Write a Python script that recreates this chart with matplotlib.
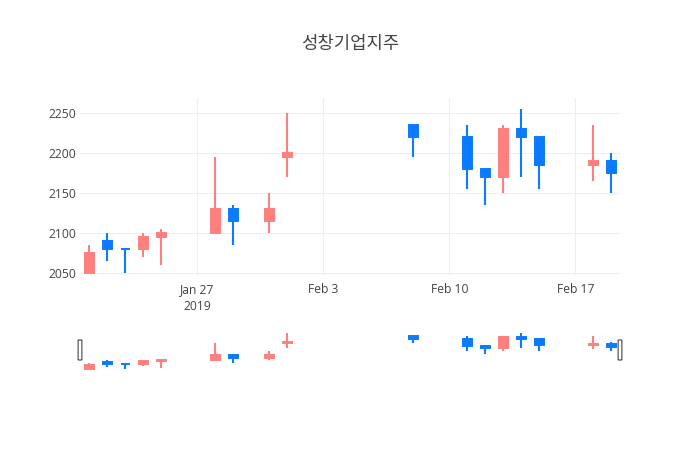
import datetime as dt

import matplotlib
matplotlib.use("Agg")
import matplotlib.dates as mdates
import matplotlib.pyplot as plt
from matplotlib.patches import FancyBboxPatch

# 일봉 데이터
dates = ["2019-01-21", "2019-01-22", "2019-01-23", "2019-01-24", "2019-01-25",
         "2019-01-28", "2019-01-29", "2019-01-31", "2019-02-01", "2019-02-08",
         "2019-02-11", "2019-02-12", "2019-02-13", "2019-02-14", "2019-02-15",
         "2019-02-18", "2019-02-19"]
opens = [2050, 2090, 2080, 2080, 2095, 2100, 2130, 2115, 2195, 2235,
         2220, 2180, 2170, 2230, 2220, 2185, 2190]
highs = [2085, 2100, 2080, 2100, 2105, 2195, 2135, 2150, 2250, 2235,
         2235, 2180, 2235, 2255, 2220, 2235, 2200]
lows = [2050, 2065, 2050, 2070, 2060, 2100, 2085, 2100, 2170, 2195,
        2155, 2135, 2150, 2170, 2155, 2165, 2150]
closes = [2075, 2080, 2080, 2095, 2100, 2130, 2115, 2130, 2200, 2220,
          2180, 2170, 2230, 2220, 2185, 2190, 2175]

yticks = [2050, 2100, 2150, 2200, 2250]
xtick_dates = ["2019-01-27", "2019-02-03", "2019-02-10", "2019-02-17"]
xtick_labels = ["Jan 27\n2019", "Feb 3", "Feb 10", "Feb 17"]
TITLE = "성창기업지주"

UP = "#ff7f7f"
DOWN = "#0a7bff"
TEXT = "#444444"
GRID = "#eeeeee"
W, H = 700, 450

plt.rcParams["font.family"] = ["Open Sans", "Noto Sans CJK KR", "DejaVu Sans"]

xs = [mdates.date2num(dt.datetime.strptime(d, "%Y-%m-%d")) for d in dates]
xt = [mdates.date2num(dt.datetime.strptime(d, "%Y-%m-%d")) for d in xtick_dates]


def draw_candles(ax):
    for x, o, h, l, c in zip(xs, opens, highs, lows, closes):
        col = UP if c > o else DOWN
        ax.vlines(x, l, h, color=col, lw=1.5, zorder=2)
        ax.bar(x, abs(c - o), bottom=min(o, c), width=0.5, color=col,
               edgecolor=col, lw=1.4, zorder=3)


fig = plt.figure(figsize=(W / 100, H / 100), dpi=100)
ax = fig.add_axes([80 / W, 1 - 275 / H, 540 / W, 177 / H])
sl = fig.add_axes([80 / W, 1 - 370 / H, 540 / W, 40 / H])

draw_candles(ax)
draw_candles(sl)

xlim = (xs[0] - 0.52, xs[-1] + 0.48)
for a in (ax, sl):
    a.set_xlim(*xlim)
    a.set_ylim(2047, 2269)
    for s in a.spines.values():
        s.set_visible(False)

ax.set_yticks(yticks)
ax.set_xticks(xt)
ax.set_xticklabels(xtick_labels, linespacing=1.35)
ax.grid(True, color=GRID, lw=0.75, zorder=0)
ax.set_axisbelow(True)
ax.tick_params(axis="both", length=0, colors=TEXT, labelsize=8.7)
ax.tick_params(axis="y", pad=2.5)
ax.tick_params(axis="x", pad=6)

sl.set_xticks([])
sl.set_yticks([])

# range slider 손잡이
for hx in (0.0, 1.0):
    sl.add_patch(FancyBboxPatch((hx - 0.0035, 0.25), 0.007, 0.5,
                                boxstyle="round,pad=0,rounding_size=0.003",
                                transform=sl.transAxes, facecolor="white",
                                edgecolor=TEXT, lw=0.8, clip_on=False, zorder=5))

fig.text(0.5, 1 - 44 / H, TITLE, ha="center", va="center", fontsize=12.8,
         color=TEXT, family=["Noto Sans CJK KR", "DejaVu Sans"])

fig.savefig("out.png", dpi=100, facecolor="white")
